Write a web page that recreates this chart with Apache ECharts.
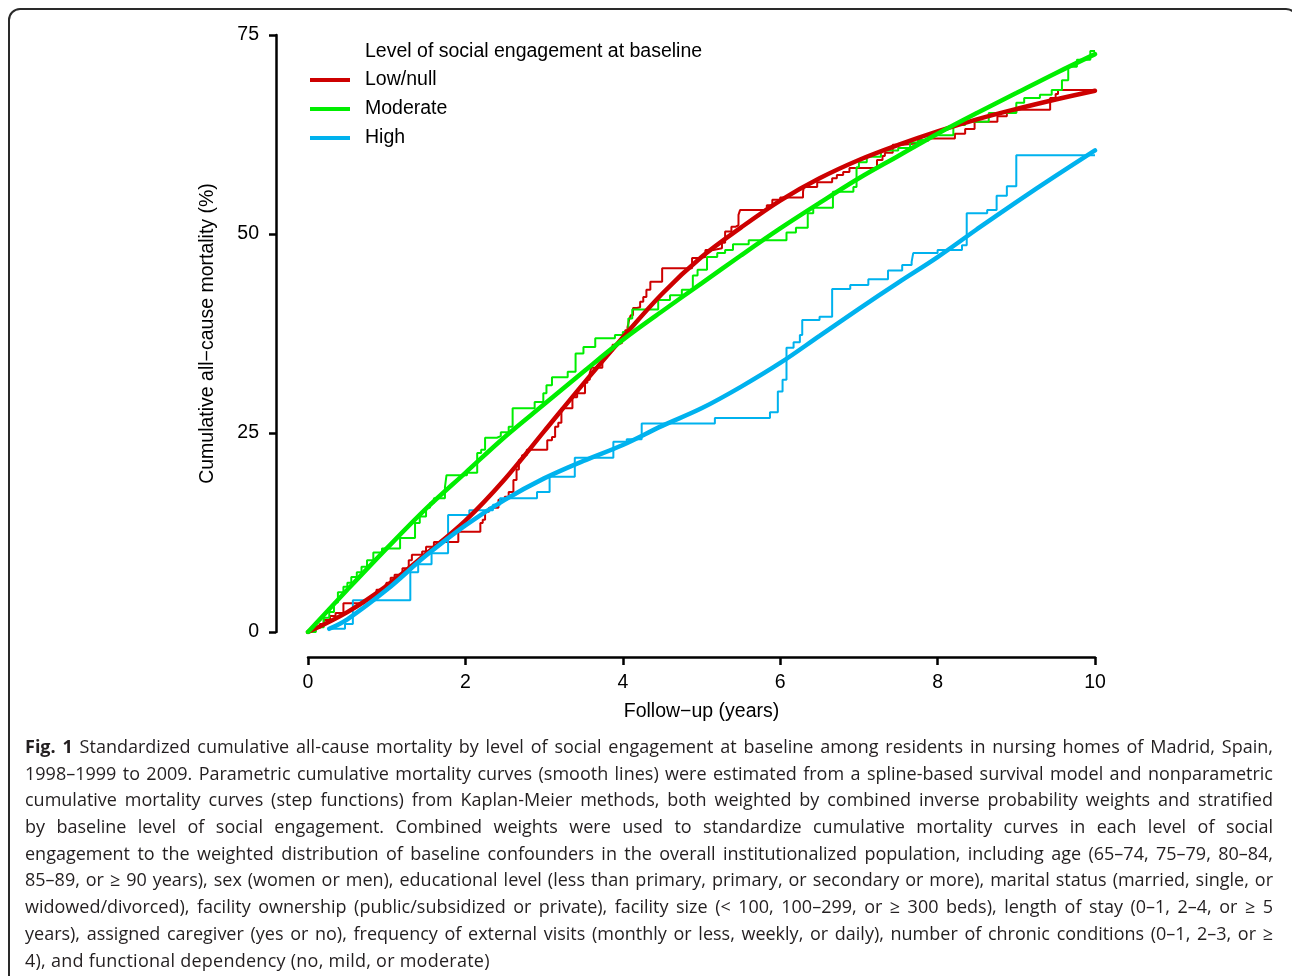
<!DOCTYPE html>
<html>
<head>
<meta charset="utf-8">
<script src="https://cdn.jsdelivr.net/npm/echarts@6/dist/echarts.min.js"></script>
<style>
  html, body { margin: 0; padding: 0; background: #fff; }
  #wrap { position: relative; width: 1292px; height: 976px; overflow: hidden; background: #fff; }
  #frame { position: absolute; left: 8px; top: 8px; width: 1290px; height: 1000px; border: 2px solid #2a2a2a; border-radius: 12px; box-sizing: border-box; }
  #chart { position: absolute; left: 0; top: 0; width: 1292px; height: 976px; }
  #caption { position: absolute; left: 25px; top: 733px; width: 1248px; font-family: "Open Sans", "Noto Sans", sans-serif; font-size: 18px; color: #231f20; }
  #caption div { height: 26.7px; line-height: 26.7px; white-space: nowrap; text-align: justify; text-align-last: justify; }
  #caption div.last { text-align-last: left; letter-spacing: 0.25px; }
</style>
</head>
<body>
<div id="wrap">
  <div id="frame"></div>
  <div id="chart"></div>
  <div id="caption">
    <div><b>Fig. 1</b> Standardized cumulative all-cause mortality by level of social engagement at baseline among residents in nursing homes of Madrid, Spain,</div>
    <div>1998–1999 to 2009. Parametric cumulative mortality curves (smooth lines) were estimated from a spline-based survival model and nonparametric</div>
    <div>cumulative mortality curves (step functions) from Kaplan-Meier methods, both weighted by combined inverse probability weights and stratified</div>
    <div>by baseline level of social engagement. Combined weights were used to standardize cumulative mortality curves in each level of social</div>
    <div>engagement to the weighted distribution of baseline confounders in the overall institutionalized population, including age (65–74, 75–79, 80–84,</div>
    <div>85–89, or ≥ 90 years), sex (women or men), educational level (less than primary, primary, or secondary or more), marital status (married, single, or</div>
    <div>widowed/divorced), facility ownership (public/subsidized or private), facility size (&lt; 100, 100–299, or ≥ 300 beds), length of stay (0–1, 2–4, or ≥ 5</div>
    <div>years), assigned caregiver (yes or no), frequency of external visits (monthly or less, weekly, or daily), number of chronic conditions (0–1, 2–3, or ≥</div>
    <div class="last">4), and functional dependency (no, mild, or moderate)</div>
  </div>
</div>
<script>
// ---- data ----
const seriesNames = ['Low/null', 'Moderate', 'High'];
const xTicks = [0, 2, 4, 6, 8, 10];
const yTicks = [0, 25, 50, 75];

// smooth parametric curves
const smoothX = [0,0.5,1,1.5,2,2.5,3,3.5,4,4.5,5,5.5,6,6.5,7,7.5,8,8.5,9,9.5,10];
const lowNullSmooth = [0,2.5,5.8,9.8,14.0,19.2,25.2,31.2,37.0,42.5,47.1,50.8,54.2,57.0,59.3,61.2,62.9,64.4,65.7,66.9,68.0];
const moderateSmooth = [0,5.3,10.5,15.5,20.0,24.5,28.6,32.7,36.7,40.3,43.8,47.3,50.7,53.9,57.0,59.8,62.6,65.2,67.7,70.2,72.6];
const highSmoothX = [0.27,0.5,1,1.5,2,2.5,3,3.5,4,4.5,5,5.5,6,6.5,7,7.5,8,8.5,9,9.5,10];
const highSmooth = [0.4,1.6,5.3,9.6,13.4,16.6,19.3,21.5,23.5,25.9,28.1,30.8,33.8,37.2,40.6,43.9,47.1,50.6,54.0,57.3,60.5];

// Kaplan-Meier step functions [time, cumulative %]
const lowNullSteps = [[0,0],[0.05,0.5],[0.15,1.0],[0.2,1.5],[0.28,2.0],[0.35,2.4],[0.45,3.6],[0.72,4.0],[0.8,4.5],[0.87,5.3],[0.98,5.8],[1.0,6.2],[1.05,6.8],[1.1,7.2],[1.2,8.0],[1.28,9.0],[1.32,9.7],[1.45,10.1],[1.5,10.7],[1.6,11.3],[1.91,12.6],[2.19,13.7],[2.22,14.1],[2.25,15.1],[2.3,15.6],[2.42,16.6],[2.5,17.0],[2.55,17.6],[2.61,19.1],[2.65,20.4],[2.68,21.6],[2.72,22.2],[2.78,22.9],[3.04,24.1],[3.1,24.5],[3.14,25.8],[3.18,26.3],[3.22,28.1],[3.36,29.5],[3.42,30.0],[3.52,31.3],[3.55,31.7],[3.58,32.5],[3.6,33.2],[3.74,34.0],[3.76,34.5],[3.8,35.3],[3.87,36.1],[3.93,36.3],[3.99,36.7],[4.0,37.3],[4.03,37.9],[4.06,38.3],[4.08,39.2],[4.1,39.8],[4.13,40.7],[4.18,40.8],[4.22,41.5],[4.26,42.1],[4.3,43.0],[4.35,44.0],[4.5,45.7],[4.88,47.0],[4.98,47.1],[5.05,48.0],[5.15,48.2],[5.26,48.9],[5.3,50.3],[5.38,50.9],[5.43,51.1],[5.47,52.4],[5.49,53.0],[5.83,53.6],[5.9,54.3],[6.0,54.6],[6.29,55.3],[6.3,55.9],[6.47,56.5],[6.66,57.0],[6.72,57.4],[6.8,57.8],[6.88,58.3],[7.23,59.3],[7.3,59.8],[7.33,60.2],[7.43,61.2],[7.56,61.4],[7.75,61.7],[7.88,62.0],[8.22,62.6],[8.35,63.2],[8.47,64.1],[8.76,64.8],[8.88,65.3],[9.0,65.6],[9.43,67.1],[9.5,67.6],[9.53,68.1],[10,68.1]];
const moderateSteps = [[0,0],[0.1,0.6],[0.2,1.8],[0.27,2.5],[0.33,3.7],[0.38,5.0],[0.45,5.7],[0.5,6.2],[0.55,6.9],[0.62,7.5],[0.68,8.2],[0.75,9.0],[0.83,10.0],[0.94,10.5],[1.17,11.8],[1.36,13.7],[1.42,14.5],[1.5,15.6],[1.55,16.2],[1.6,16.8],[1.74,18.2],[1.76,19.7],[2.02,20.0],[2.15,22.5],[2.2,22.9],[2.25,24.4],[2.4,24.6],[2.45,25.1],[2.55,25.8],[2.6,28.1],[2.88,28.9],[2.99,30.0],[3.03,31.0],[3.1,32.0],[3.3,32.7],[3.4,35.0],[3.5,35.8],[3.65,36.9],[3.9,37.3],[4.0,37.7],[4.07,39.4],[4.12,40.5],[4.45,41.7],[4.6,42.3],[4.75,43.0],[4.89,44.8],[4.95,45.5],[5.07,47.1],[5.2,47.6],[5.3,48.0],[5.4,48.7],[5.6,49.2],[6.08,50.2],[6.2,50.8],[6.35,52.6],[6.42,53.3],[6.67,55.3],[6.93,55.9],[6.97,58.4],[7.0,59.0],[7.1,59.7],[7.28,60.5],[7.5,60.8],[7.65,61.5],[7.75,61.8],[7.88,62.4],[8.2,63.7],[8.35,64.1],[8.65,65.2],[9.0,66.5],[9.1,67.1],[9.3,67.5],[9.45,68.1],[9.58,69.3],[9.66,71.0],[9.77,71.9],[9.94,73.0],[10,73.0]];
const highSteps = [[0.28,0.4],[0.47,1.0],[0.57,4.0],[1.3,7.5],[1.4,8.5],[1.57,9.9],[1.78,14.7],[2.05,15.3],[2.35,16.0],[2.44,16.8],[2.91,17.6],[3.07,19.5],[3.39,21.9],[3.88,23.9],[4.05,24.2],[4.24,26.2],[5.17,26.9],[5.87,27.6],[5.97,30.2],[6.03,31.7],[6.08,35.7],[6.17,36.4],[6.25,37.3],[6.28,39.2],[6.5,39.6],[6.66,43.1],[6.89,43.6],[7.12,44.3],[7.37,45.4],[7.55,46.1],[7.67,46.5],[7.69,47.6],[8.0,48.0],[8.31,48.6],[8.37,52.6],[8.63,53.0],[8.75,54.8],[8.88,56.0],[9.0,59.9],[10.0,59.9]];

const colors = ['#cd0000', '#00ee00', '#00b2ee'];
// ---- chart ----
const FONT = '"Liberation Sans", Arial, Helvetica, sans-serif';
const FS = 19.5;
const zip = (xs, ys) => xs.map((x, i) => [x, ys[i]]);
const chart = echarts.init(document.getElementById('chart'), null, { renderer: 'canvas' });

function stepSeries(name, data, color) {
  return { name: name + ' KM', type: 'line', step: 'end', data: data, showSymbol: false, symbol: 'none',
    lineStyle: { color: color, width: 2 }, itemStyle: { color: color }, z: 2, animation: false, silent: true };
}
function smoothSeries(name, data, color) {
  return { name: name, type: 'line', smooth: 0.35, data: data, showSymbol: false, symbol: 'none',
    lineStyle: { color: color, width: 4.5, cap: 'round' }, itemStyle: { color: color }, z: 3, animation: false, silent: true };
}

chart.setOption({
  animation: false,
  backgroundColor: 'transparent',
  textStyle: { fontFamily: FONT },
  grid: { left: 308, right: 197, top: 35, bottom: 344, containLabel: false },
  title: { text: 'Level of social engagement at baseline', left: 360, top: 37,
    textStyle: { fontFamily: FONT, fontSize: FS, fontWeight: 'normal', color: '#000' } },
  legend: { data: seriesNames, orient: 'vertical', left: 305, top: 65, itemWidth: 40, itemHeight: 4, itemGap: 9,
    icon: 'rect', selectedMode: false,
    textStyle: { fontFamily: FONT, fontSize: FS, color: '#000', padding: [0, 0, 0, 10] } },
  xAxis: {
    type: 'value', min: 0, max: 10, interval: 2, offset: 25,
    name: 'Follow\u2212up (years)', nameLocation: 'middle', nameGap: 45,
    nameTextStyle: { fontFamily: FONT, fontSize: FS, color: '#000' },
    axisLine: { show: true, onZero: false, lineStyle: { color: '#000', width: 2.5 } },
    axisTick: { show: true, inside: false, length: 8, lineStyle: { color: '#000', width: 2.5 } },
    axisLabel: { margin: 16, fontFamily: FONT, fontSize: FS, color: '#000', formatter: v => xTicks.includes(v) ? String(v) : '' },
    splitLine: { show: false }
  },
  yAxis: {
    type: 'value', min: 0, max: 75, interval: 25, offset: 32,
    name: 'Cumulative all\u2212cause mortality (%)', nameLocation: 'middle', nameGap: 58,
    nameTextStyle: { fontFamily: FONT, fontSize: FS, color: '#000' },
    axisLine: { show: true, onZero: false, lineStyle: { color: '#000', width: 2.5 } },
    axisTick: { show: true, inside: false, length: 7, lineStyle: { color: '#000', width: 2.5 } },
    axisLabel: { margin: 17, fontFamily: FONT, fontSize: FS, color: '#000', formatter: v => yTicks.includes(v) ? String(v) : '' },
    splitLine: { show: false }
  },
  series: [
    stepSeries(seriesNames[0], lowNullSteps, colors[0]),
    stepSeries(seriesNames[1], moderateSteps, colors[1]),
    stepSeries(seriesNames[2], highSteps, colors[2]),
    smoothSeries(seriesNames[0], zip(smoothX, lowNullSmooth), colors[0]),
    smoothSeries(seriesNames[1], zip(smoothX, moderateSmooth), colors[1]),
    smoothSeries(seriesNames[2], zip(highSmoothX, highSmooth), colors[2])
  ]
});
</script>
</body>
</html>
